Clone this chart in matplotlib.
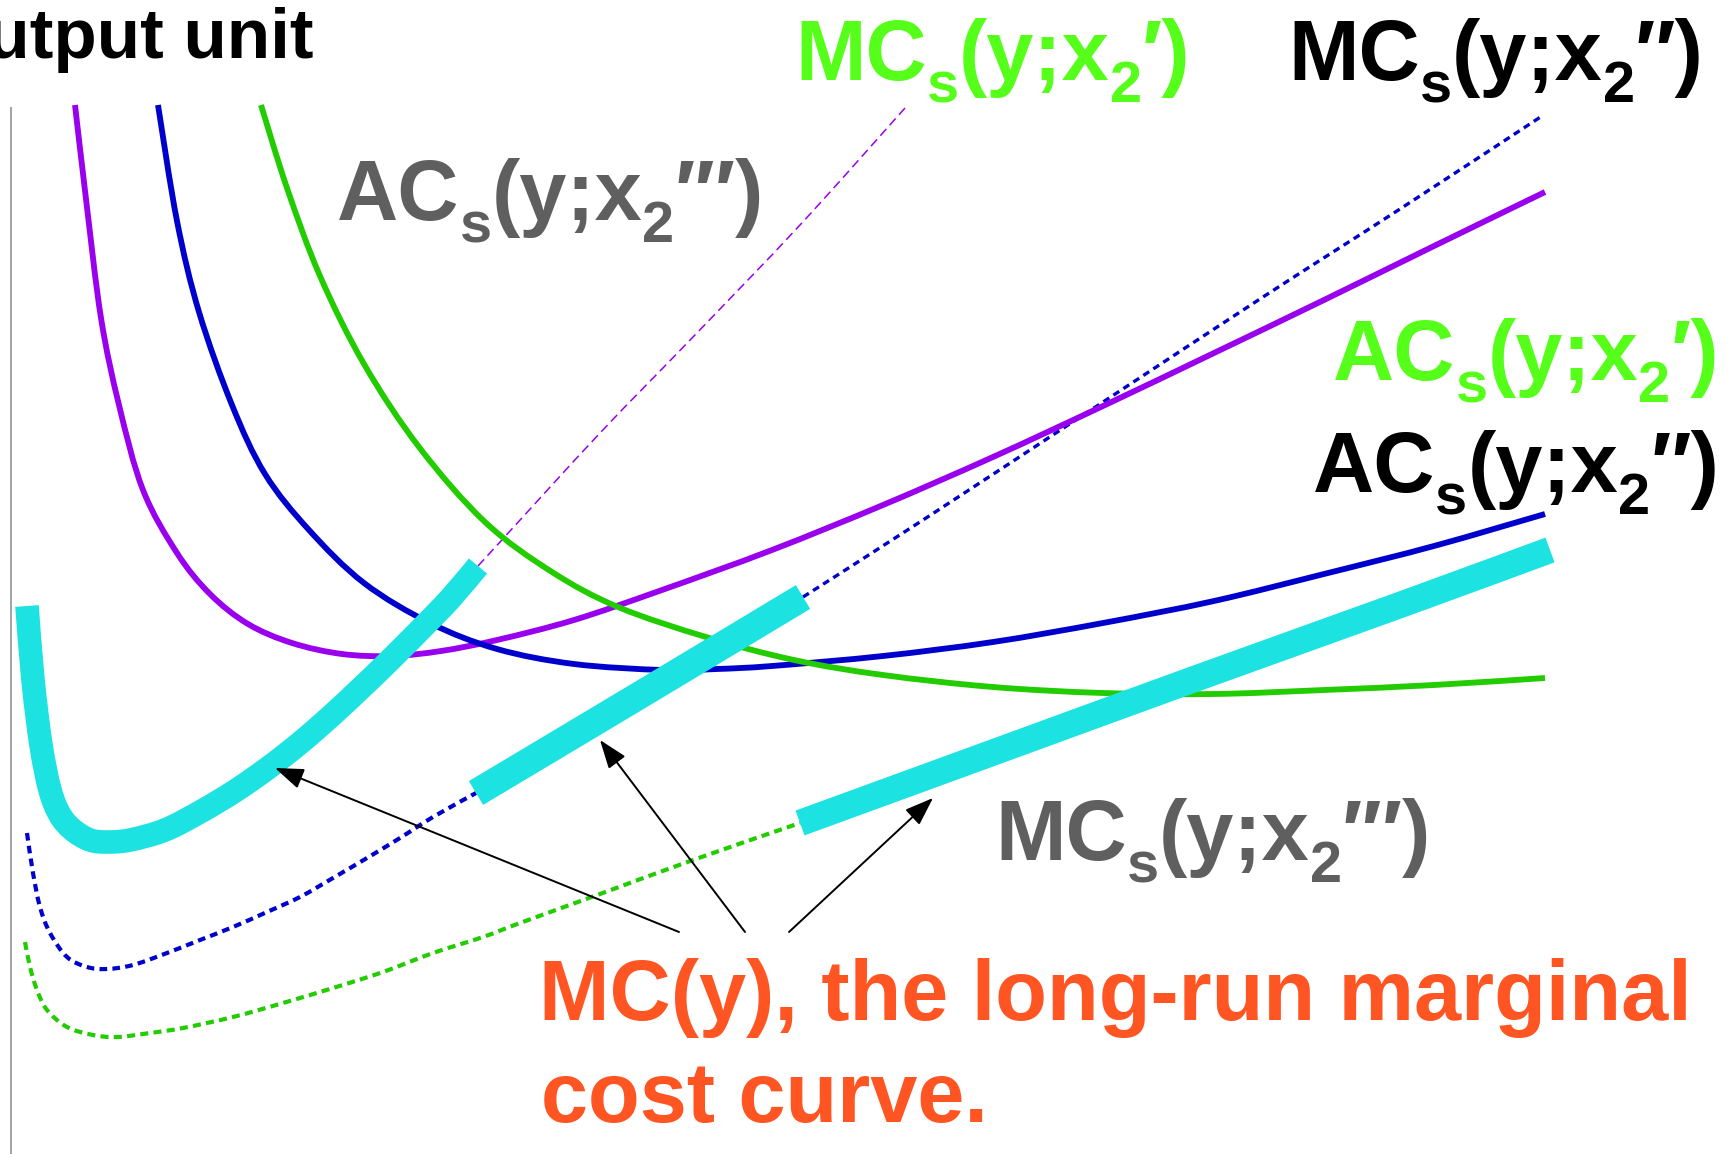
import numpy as np
import matplotlib
matplotlib.use("Agg")
import matplotlib.pyplot as plt
from matplotlib.path import Path
from matplotlib.patches import PathPatch

plt.rcParams["font.family"] = ["Liberation Sans", "DejaVu Sans"]
plt.rcParams["font.weight"] = "bold"
plt.rcParams["lines.scale_dashes"] = False

W, H = 1730, 1154

# ---- short-run average cost curves (output, cost measured down from the top) ----
ac3_q = [75, 86, 101, 119, 143, 177, 210, 248, 292, 342, 392, 441, 497, 574, 662, 772, 883, 993, 1103, 1214, 1324, 1434, 1545]
ac3_c = [105, 199, 318, 405, 490, 553, 594, 624, 643, 654, 656, 651, 640, 620, 590, 550, 505, 457, 406, 353, 300, 246, 192]

ac2_q = [158, 177, 199, 232, 265, 309, 364, 430, 497, 574, 662, 717, 772, 883, 993, 1103, 1214, 1324, 1434, 1545]
ac2_c = [105, 221, 312, 405, 474, 530, 583, 623, 649, 664, 670, 669, 666, 656, 642, 623, 601, 574, 546, 514]

ac1_q = [261, 287, 320, 364, 419, 485, 552, 618, 706, 794, 883, 993, 1103, 1214, 1324, 1434, 1545]
ac1_c = [105, 188, 276, 364, 447, 522, 572, 607, 637, 660, 675, 687, 693, 694, 690, 685, 678]

# ---- short-run marginal cost curves ----
mc3_q = [27, 33, 41, 50, 60, 73, 90, 107, 130, 165, 200, 235, 268, 300, 331, 360, 386, 421, 450, 478, 500, 600, 693, 800, 905]
mc3_c = [606, 680, 745, 790, 815, 830, 840, 842, 840, 830, 812, 791, 768, 743, 716, 689, 664, 629, 599, 566, 542, 433, 337, 225, 108]

mc2_q = [27, 33, 40, 50, 67, 87, 107, 133, 167, 200, 233, 267, 300, 333, 367, 400, 433, 476, 640, 803, 923, 1100, 1263, 1400, 1542]
mc2_c = [833, 873, 907, 933, 957, 967, 969, 965, 953, 940, 927, 912, 897, 878, 858, 838, 817, 793, 695, 597, 520, 404, 297, 209, 116]

mc1_q = [25, 30, 37, 47, 67, 93, 117, 150, 183, 233, 283, 333, 383, 433, 483, 520, 600, 693, 800, 1000, 1200, 1400, 1550]
mc1_c = [942, 967, 990, 1010, 1027, 1035, 1037, 1033, 1028, 1017, 1003, 988, 972, 953, 937, 923, 894, 860, 823, 750, 677, 605, 550]

# index ranges of each short-run MC that form the long-run MC
lrmc3 = (0, 19)
lrmc2 = (17, 19)
lrmc1 = (18, 22)

# callouts: (tail, head)
callouts = [((679, 932), (275, 768)), ((745, 932), (600, 740)), ((789, 932), (933, 798))]

PURPLE = "#9900EE"
BLUE = "#0000CC"
GREEN = "#22CC00"
CYAN = "#1DE2E2"
GREY = "#5F5F5F"
LIME = "#55FF1A"
ORANGE = "#FF5522"

fig = plt.figure(figsize=(W / 100, H / 100), dpi=100)
ax = fig.add_axes([0, 0, 1, 1])
ax.set_xlim(0, W)
ax.set_ylim(H, 0)
ax.axis("off")


def smooth(q, c):
    """Catmull-Rom curve through the points, as a cubic Bezier path."""
    P = np.column_stack([q, c]).astype(float)
    verts, codes = [P[0]], [Path.MOVETO]
    n = len(P)
    for i in range(n - 1):
        p0 = P[i - 1] if i > 0 else P[i]
        p1, p2 = P[i], P[i + 1]
        p3 = P[i + 2] if i + 2 < n else P[i + 1]
        verts += [p1 + (p2 - p0) / 6.0, p2 - (p3 - p1) / 6.0, p2]
        codes += [Path.CURVE4] * 3
    return Path(verts, codes)


def curve(q, c, a, b, color, lw, dash=None, z=2):
    path = smooth(q[a:b + 1], c[a:b + 1])
    ls = "-" if dash is None else (0, dash)
    ax.add_patch(PathPatch(path, fill=False, edgecolor=color, lw=lw, linestyle=ls,
                           capstyle="butt", joinstyle="round", zorder=z))


# vertical axis
ax.vlines(11, 107, H, color="#8A8A8A", lw=1.1)

# dashed short-run MC pieces
curve(mc3_q, mc3_c, lrmc3[1], len(mc3_q) - 1, PURPLE, 1.1, (6.5, 3.6))
curve(mc2_q, mc2_c, 0, lrmc2[0], BLUE, 3.0, (5.5, 3.8))
curve(mc2_q, mc2_c, lrmc2[1], len(mc2_q) - 1, BLUE, 2.4, (5.0, 3.6))
curve(mc1_q, mc1_c, 0, lrmc1[0], GREEN, 3.0, (5.8, 3.8))

# short-run AC curves
curve(ac3_q, ac3_c, 0, len(ac3_q) - 1, PURPLE, 4.2)
curve(ac2_q, ac2_c, 0, len(ac2_q) - 1, BLUE, 4.2)
curve(ac1_q, ac1_c, 0, len(ac1_q) - 1, GREEN, 4.2)

# long-run MC
for qq, cc, (a, b), lw in [(mc3_q, mc3_c, lrmc3, 17), (mc2_q, mc2_c, lrmc2, 20),
                           (mc1_q, mc1_c, lrmc1, 19)]:
    curve(qq, cc, a, b, CYAN, lw, z=3)

for tail, head in callouts:
    ax.annotate("", xy=head, xytext=tail, zorder=4,
                arrowprops=dict(arrowstyle="-|>,head_length=0.55,head_width=0.2",
                                color="black", lw=1.4, mutation_scale=32,
                                shrinkA=0, shrinkB=0))

FS = 61
FS_PX = FS * 100 / 72.0
renderer = fig.canvas.get_renderer()


def label(x, y, base, primes, color, ha="left"):
    parts = [(base, False), ("s", True), ("(y;x", False), ("2", True), (primes + ")", False)]
    items = []
    for s, sub in parts:
        t = ax.text(0, 0, s, color=color, fontsize=FS * 0.68 if sub else FS,
                    fontweight="bold", ha="left", va="baseline", zorder=5)
        items.append((t, t.get_window_extent(renderer).width, sub))
    x0 = x - sum(w for _, w, _ in items) if ha == "right" else x
    for t, w, sub in items:
        t.set_position((x0, y + (0.26 * FS_PX if sub else 0)))
        x0 += w


ax.text(314, 58, r"\$/output unit", fontsize=51, fontweight="bold",
        color="black", ha="right", va="baseline")

label(337, 220, "AC", "\u2032\u2032\u2032", GREY)
label(795, 80, "MC", "\u2032", LIME)
label(1288, 80, "MC", "\u2033", "black")
label(1719, 380, "AC", "\u2032", LIME, ha="right")
label(1719, 492, "AC", "\u2033", "black", ha="right")
label(995, 860, "MC", "\u2032\u2032\u2032", GREY)

ax.text(539, 1020, "MC(y), the long-run marginal", fontsize=FS,
        fontweight="bold", color=ORANGE, ha="left", va="baseline")
ax.text(541, 1122, "cost curve.", fontsize=FS,
        fontweight="bold", color=ORANGE, ha="left", va="baseline")

fig.savefig("out.png", dpi=100)
